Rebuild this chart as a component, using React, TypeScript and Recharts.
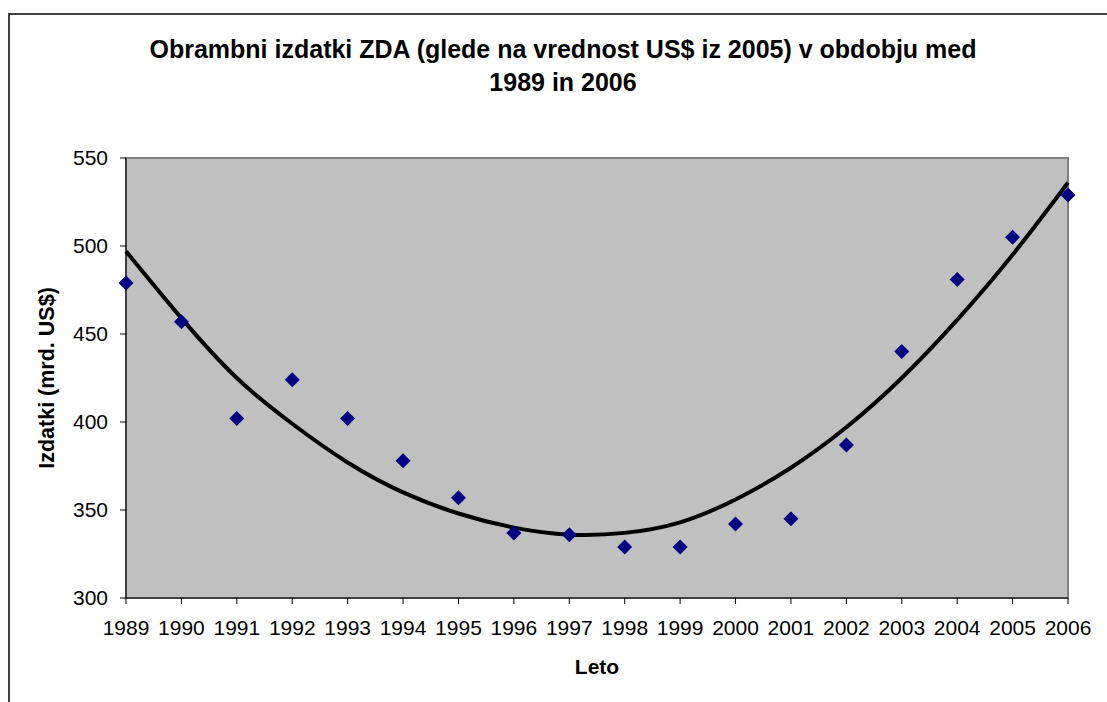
import React from "react"
import {
  ComposedChart,
  Line,
  Scatter,
  XAxis,
  YAxis,
  ReferenceArea,
  Label,
} from "recharts"

const years = [1989, 1990, 1991, 1992, 1993, 1994, 1995, 1996, 1997, 1998, 1999, 2000, 2001, 2002, 2003, 2004, 2005, 2006]
const spending = [479, 457, 402, 424, 402, 378, 357, 337, 336, 329, 329, 342, 345, 387, 440, 481, 505, 529]
// polynomial trend line
const trend = [497, 459, 425, 399, 377, 360, 348, 340, 336, 337, 343, 356, 374, 397, 425, 458, 495, 536]
const yTicks = [300, 350, 400, 450, 500, 550]

const data = years.map((year, i) => ({ year, spending: spending[i], trend: trend[i] }))

const FONT = "'Liberation Sans', Arial, sans-serif"

const Diamond = (props: any) => {
  const { cx, cy } = props
  const r = 7.5
  return (
    <polygon
      points={`${cx},${cy - r} ${cx + r},${cy} ${cx},${cy + r} ${cx - r},${cy}`}
      fill="#000080"
    />
  )
}

const YTitle = (props: any) => {
  const vb = props.viewBox
  const cx = vb.x - 19
  const cy = vb.y + vb.height / 2
  return (
    <text
      x={cx}
      y={cy}
      transform={`rotate(-90, ${cx}, ${cy})`}
      textAnchor="middle"
      dominantBaseline="central"
      fontFamily={FONT}
      fontSize={21.5}
      fontWeight="bold"
      fill="#000"
    >
      Izdatki (mrd. US$)
    </text>
  )
}

export default function App() {
  return (
    <div
      style={{
        position: "absolute",
        left: 0,
        top: 0,
        width: 1107,
        height: 702,
        overflow: "hidden",
        background: "#fff",
      }}
    >
      <div
        style={{
          position: "absolute",
          left: 8,
          top: 13,
          width: 1200,
          height: 800,
          border: "2px solid #404040",
        }}
      />
      <div
        style={{
          position: "absolute",
          left: 0,
          top: 33,
          width: 1126,
          textAlign: "center",
          fontFamily: FONT,
          fontSize: 25,
          fontWeight: "bold",
          lineHeight: "33px",
          color: "#000",
        }}
      >
        Obrambni izdatki ZDA (glede na vrednost US$ iz 2005) v obdobju med
        <br />
        1989 in 2006
      </div>
      <div style={{ position: "absolute", left: 0, top: 0 }}>
        <ComposedChart
          width={1107}
          height={702}
          data={data}
          margin={{ top: 158, right: 39, bottom: 64, left: 66 }}
        >
          <ReferenceArea
            x1={1989}
            x2={2006}
            y1={300}
            y2={550}
            fill="#C0C0C0"
            fillOpacity={1}
            stroke="#808080"
            strokeWidth={2}
          />
          <XAxis
            dataKey="year"
            type="number"
            domain={[1989, 2006]}
            ticks={years}
            interval={0}
            height={40}
            stroke="#000"
            tickLine={{ stroke: "#000" }}
            tickMargin={16}
            tick={{ fill: "#000", fontSize: 21, fontFamily: FONT }}
          >
            <Label
              value="Leto"
              position="bottom"
              offset={21}
              fill="#000"
              fontSize={21}
              fontWeight="bold"
              fontFamily={FONT}
            />
          </XAxis>
          <YAxis
            type="number"
            domain={[300, 550]}
            ticks={yTicks}
            width={60}
            stroke="#000"
            tickLine={{ stroke: "#000" }}
            tickMargin={12}
            tick={{ fill: "#000", fontSize: 21, fontFamily: FONT }}
            label={{ content: YTitle }}
          />
          <Line
            dataKey="trend"
            type="natural"
            stroke="#000"
            strokeWidth={4}
            dot={false}
            activeDot={false}
            isAnimationActive={false}
          />
          <Scatter
            dataKey="spending"
            shape={Diamond}
            isAnimationActive={false}
          />
        </ComposedChart>
      </div>
    </div>
  )
}
